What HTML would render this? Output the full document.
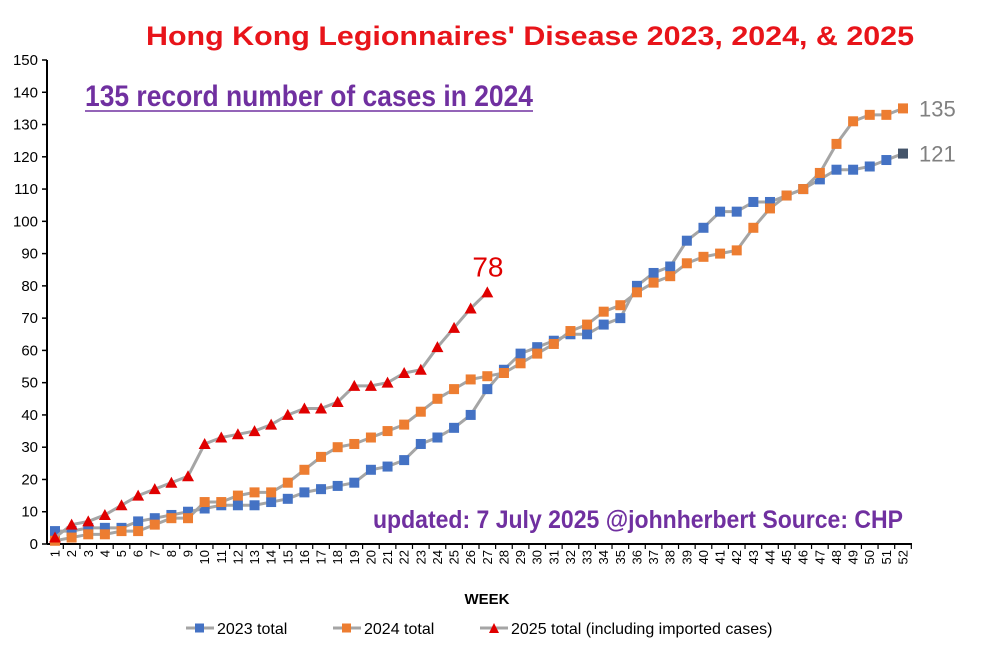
<!DOCTYPE html>
<html><head><meta charset="utf-8"><style>
body{margin:0;background:#fff;width:1000px;height:650px;overflow:hidden;font-family:"Liberation Sans",sans-serif}
</style></head><body>
<svg id="chart" width="1000" height="650" xmlns="http://www.w3.org/2000/svg">
<text x="530" y="45" text-anchor="middle" fill="#e8141a" font-size="27" font-weight="bold" font-family="Liberation Sans, sans-serif" textLength="768" lengthAdjust="spacingAndGlyphs">Hong Kong Legionnaires' Disease  2023, 2024, &amp; 2025</text>
<text x="85" y="106" fill="#7030a0" font-size="30" font-weight="600" font-family="Liberation Sans Narrow, Liberation Sans, sans-serif" textLength="448" lengthAdjust="spacingAndGlyphs">135 record number of cases in 2024</text>
<line x1="85" y1="111" x2="533" y2="111" stroke="#7030a0" stroke-width="1.5"/>
<text x="373" y="528" fill="#7030a0" font-size="25" font-weight="600" font-family="Liberation Sans Narrow, Liberation Sans, sans-serif" textLength="530" lengthAdjust="spacingAndGlyphs">updated: 7 July 2025  @johnherbert  Source: CHP</text>
<text x="487" y="604" text-anchor="middle" font-size="15" font-weight="bold">WEEK</text>
<g id="plot"></g>
<g>
<g><line x1="186" y1="628" x2="214" y2="628" stroke="#a5a5a5" stroke-width="3"/><rect x="195" y="623.5" width="9" height="9" fill="#4472c4"/><text x="217" y="634" font-size="16">2023 total</text></g>
<g><line x1="333" y1="628" x2="361" y2="628" stroke="#a5a5a5" stroke-width="3"/><rect x="342" y="623.5" width="9" height="9" fill="#ed7d31"/><text x="364" y="634" font-size="16">2024 total</text></g>
<g><line x1="480" y1="628" x2="508" y2="628" stroke="#a5a5a5" stroke-width="3"/><polygon points="494,623 499,633 489,633" fill="#e00000"/><text x="511" y="634" font-size="16">2025 total (including imported cases)</text></g>
</g>
</svg>
<script>
const weeks = Array.from({length:52},(_,i)=>i+1);
const yTicks = [0,10,20,30,40,50,60,70,80,90,100,110,120,130,140,150];
const s2023 = [4,4,5,5,5,7,8,9,10,11,12,12,12,13,14,16,17,18,19,23,24,26,31,33,36,40,48,54,59,61,63,65,65,68,70,80,84,86,94,98,103,103,106,106,108,110,113,116,116,117,119,121];
const s2024 = [1,2,3,3,4,4,6,8,8,13,13,15,16,16,19,23,27,30,31,33,35,37,41,45,48,51,52,53,56,59,62,66,68,72,74,78,81,83,87,89,90,91,98,104,108,110,115,124,131,133,133,135];
const s2025 = [2,6,7,9,12,15,17,19,21,31,33,34,35,37,40,42,42,44,49,49,50,53,54,61,67,73,78];

const NS="http://www.w3.org/2000/svg";
const g=document.getElementById('plot');
const x0=55, dx=(903-55)/51, yB=544, yT=60;
const X=w=>x0+(w-1)*dx;
const Y=v=>yB-(v/150)*(yB-yT);
function el(tag,attrs,parent){const e=document.createElementNS(NS,tag);for(const k in attrs)e.setAttribute(k,attrs[k]);(parent||g).appendChild(e);return e;}
const ax=el('line',{x1:47,y1:yB,x2:912,y2:yB,stroke:'#000','stroke-width':2});


const ay=el('line',{x1:47,y1:yT,x2:47,y2:yB,stroke:'#000','stroke-width':2});


yTicks.forEach(t=>{
  el('line',{x1:42,y1:Y(t),x2:47,y2:Y(t),stroke:'#000','stroke-width':1.5});
  const tx=el('text',{x:38,y:Y(t)+5,'text-anchor':'end','font-size':15});
  tx.textContent=t;
  
  
});
weeks.forEach(w=>{
  el('line',{x1:X(w)+dx/2,y1:yB,x2:X(w)+dx/2,y2:yB+5,stroke:'#000','stroke-width':1.2});
  const tx=el('text',{transform:`translate(${X(w)+4.5},${yB+6}) rotate(-90)`,'text-anchor':'end','font-size':13});
  tx.textContent=w;
  
  
});
function series(data,name,color,tri){
  const grp=el('g',{});
  
  
  el('polyline',{points:data.map((v,i)=>X(i+1)+','+Y(v)).join(' '),fill:'none',stroke:'#a5a5a5','stroke-width':3},grp);
  data.forEach((v,i)=>{
    let m;
    if(tri){const cx=X(i+1),cy=Y(v);m=el('polygon',{points:`${cx},${cy-6} ${cx+6},${cy+5} ${cx-6},${cy+5}`,fill:'#e00000'},grp);}
    else{const c=(name==='series-2023'&&i===data.length-1)?'#44546a':color;m=el('rect',{x:X(i+1)-5,y:Y(v)-5,width:10,height:10,fill:c},grp);}
    
    
  });
  return grp;
}
series(s2023,'series-2023','#4472c4',false);
series(s2024,'series-2024','#ed7d31',false);
series(s2025,'series-2025','#e00000',true);
function lbl(txt,x,y,color,size,name){const t=el('text',{x:x,y:y,fill:color,'font-size':size});t.textContent=txt;}
lbl(s2024[51],X(52)+16,Y(s2024[51])+8,'#808080',22,'label-2024-final');
lbl(s2023[51],X(52)+16,Y(s2023[51])+8,'#808080',22,'label-2023-final');
lbl(s2025[26],X(27)-15,Y(s2025[26])-16,'#e00000',28,'label-2025-latest');
</script>
</body></html>
